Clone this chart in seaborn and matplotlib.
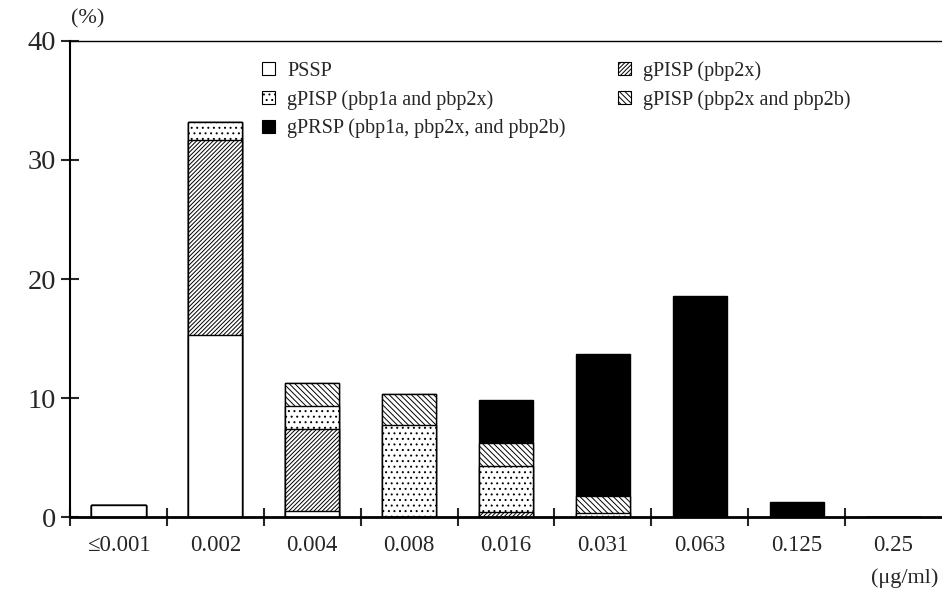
import numpy as np
import pandas as pd
import matplotlib
import matplotlib.pyplot as plt
import seaborn as sns
from matplotlib.patches import Patch

matplotlib.use('Agg')

sns.set_style("ticks")
plt.rcParams['font.family'] = ['Liberation Serif', 'DejaVu Serif']
plt.rcParams['hatch.linewidth'] = 0.7

# MIC categories (ug/ml) and % of isolates per genotype group
mic_labels = ["≤0.001", "0.002", "0.004", "0.008", "0.016", "0.031", "0.063", "0.125", "0.25"]
pssp      = [1.0, 15.3, 0.5, 0.0, 0.0,  0.0,  0.0, 0.0, 0.0]
pisp_2x   = [0.0, 16.4, 6.9, 0.0, 0.45, 0.0,  0.0, 0.0, 0.0]
pisp_1a2x = [0.0, 1.5,  1.9, 7.7, 3.85, 0.35, 0.0, 0.0, 0.0]
pisp_2x2b = [0.0, 0.0,  2.0, 2.6, 1.9,  1.45, 0.0, 0.0, 0.0]
prsp      = [0.0, 0.0,  0.0, 0.0, 3.6,  11.9, 18.6, 1.3, 0.0]

series_names = ["PSSP", "gPISP (pbp2x)", "gPISP (pbp1a and pbp2x)",
                "gPISP (pbp2x and pbp2b)", "gPRSP (pbp1a, pbp2x, and pbp2b)"]
series_vals = [pssp, pisp_2x, pisp_1a2x, pisp_2x2b, prsp]
face = ["white", "white", "white", "white", "black"]
hatches = [None, "////////", "...", "\\\\\\\\\\\\", None]

df = pd.DataFrame({"mic": mic_labels})
cum = np.zeros(len(mic_labels))
for name, vals in zip(series_names, series_vals):
    cum = cum + np.array(vals)
    df[name] = cum

fig = plt.figure(figsize=(9.42, 5.94), dpi=100)
ax = fig.add_axes([0.0743, 0.1296, 0.9257, 0.8014])

# draw cumulative totals from the top layer down so lower layers cover upper ones
for i in reversed(range(len(series_names))):
    sns.barplot(data=df, x="mic", y=series_names[i], order=mic_labels,
                color=face[i], saturation=1, edgecolor="black", linewidth=1,
                hatch=hatches[i], width=0.56, ax=ax)

ax.set_xlim(-0.5, 8.5)
ax.set_ylim(0, 40)
ax.set_xlabel("")
ax.set_ylabel("")

ax.set_xticks(np.arange(-0.5, 8, 1))
ax.set_xticklabels([])
ax.set_xticks(np.arange(len(mic_labels)), minor=True)
ax.set_xticklabels(mic_labels, minor=True, fontsize=16.5)
ax.tick_params(axis="x", which="major", direction="inout", length=13, width=1.5)
ax.tick_params(axis="x", which="minor", length=0, pad=13)

ax.set_yticks([0, 10, 20, 30, 40])
ax.set_yticklabels(["0", "10", "20", "30", "40"], fontsize=20.5)
ax.tick_params(axis="y", direction="inout", length=13, width=1.5, pad=3.5)

for s in ["left", "bottom", "top"]:
    ax.spines[s].set_visible(True)
    ax.spines[s].set_color("black")
ax.spines["left"].set_linewidth(1.5)
ax.spines["bottom"].set_linewidth(2)
ax.spines["top"].set_linewidth(1)
ax.spines["right"].set_visible(False)

fig.text(0.093, 0.968, "(%)", ha="center", va="center", fontsize=16)
fig.text(0.996, 0.027, "(μg/ml)", ha="right", va="center", fontsize=16)

order = [0, 2, 4, 1, 3]
handles = [Patch(facecolor=face[i], edgecolor="black", hatch=hatches[i], linewidth=0.8)
           for i in order]
labels = [series_names[i] for i in order]
fig.legend(handles, labels, ncol=2, loc="upper left",
           bbox_to_anchor=(262 / 942, 1 - 61 / 594), frameon=False,
           fontsize=14.5, borderpad=0, borderaxespad=0, handlelength=0.65,
           handleheight=0.65, handletextpad=0.6, labelspacing=0.45,
           columnspacing=2.6)

fig.savefig("out.png", dpi=100)
